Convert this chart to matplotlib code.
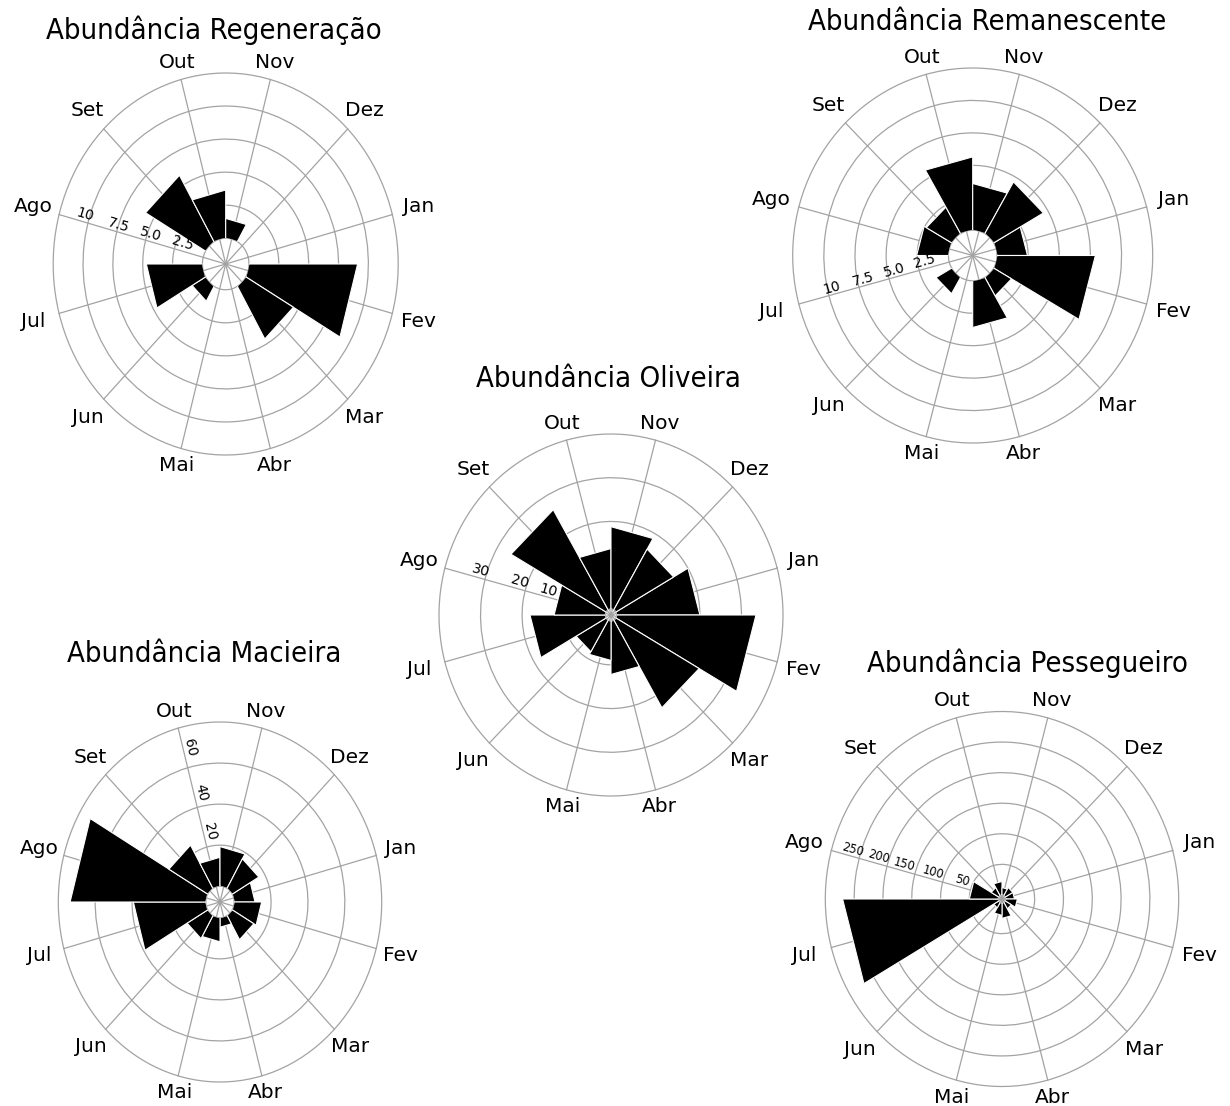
import numpy as np
import matplotlib.pyplot as plt

meses = ['Jan', 'Fev', 'Mar', 'Abr', 'Mai', 'Jun', 'Jul', 'Ago', 'Set', 'Out', 'Nov', 'Dez']

# abundancia mensal
regeneracao = [0, 9.1, 4.6, 0, 0, 1.3, 4.7, 0, 5.8, 3.65, 1.5, 0]
remanescente = [2.45, 7.9, 1.65, 3.6, 0, 1.45, 0, 2.55, 2.35, 5.65, 3.6, 4.6]
oliveira = [20, 33.5, 23.1, 12.2, 9, 8.3, 18.1, 12.3, 26.4, 13.8, 18.8, 16]
macieira = [11.3, 14.9, 13.5, 4.6, 11.7, 12.9, 39.3, 73.6, 24.3, 14.1, 19.3, 16.6]
pessegueiro = [15, 20, 12, 25, 20, 10, 270, 50, 15, 22, 12, 15]

# escalas radiais
ticks_10 = [2.5, 5.0, 7.5, 10]
rotulos_10 = ['2.5', '5.0', '7.5', '10']
ticks_oliveira = [10, 20, 30]
ticks_macieira = [20, 40, 60]
ticks_pessegueiro = [50, 100, 150, 200, 250]

W, H = 1230, 1106
GRID = '#a3a3a3'
FONTE = ['DejaVu Sans']
FONTE_TITULO = ['DejaVu Sans']

fig = plt.figure(figsize=(W / 100, H / 100), dpi=100)


def rosa(valores, titulo, cx, cy, rx, ry, rmax, furo, ticks, rotulos, eixo,
         pos_rotulos, tam_rotulo, tx, ty):
    ax = fig.add_axes([(cx - rx) / W, 1 - (cy + ry) / H, 2 * rx / W, 2 * ry / H],
                      projection='polar')
    # the reference circles are slightly squeezed horizontally
    ax.set_aspect('auto')
    ax.set_theta_zero_location('E', offset=15)
    ax.set_theta_direction(-1)
    ax.set_ylim(0, rmax)
    ax.set_rorigin(-furo)
    ax.set_xticks([])
    ax.set_yticks(ticks)
    ax.set_yticklabels([])
    ax.tick_params(length=0)
    ax.grid(True, color=GRID, lw=0.9)
    for s in ax.spines.values():
        s.set_color(GRID)
        s.set_linewidth(0.9)
    ax.patch.set_facecolor('white')

    theta = np.deg2rad(np.arange(12) * 30)
    meia = np.deg2rad(15)

    # spokes run through the hole down to the centre
    for t in theta:
        ax.plot([t, t], [-furo, rmax], color=GRID, lw=0.9, clip_on=False, zorder=1)

    # wedges with straight outer edges
    for t, v in zip(theta, valores):
        if v > 0:
            ax.fill([t - meia, t - meia, t + meia, t + meia], [0, v, v, 0],
                    facecolor='black', edgecolor='white', lw=0.8, zorder=3)

    # month names outside the rim
    for t, m in zip(theta, meses):
        ang = np.deg2rad(15) - t
        k = 0.07 + 0.09 * abs(np.cos(ang))
        ax.text(t, rmax + k * (rmax + furo), m, ha='center', va='center',
                fontsize=14.5, family=FONTE)

    # radial scale written along one spoke
    te = theta[eixo]
    p0 = ax.transData.transform((te, -furo))
    p1 = ax.transData.transform((te, rmax))
    rot = np.degrees(np.arctan2(p1[1] - p0[1], p1[0] - p0[0])) - 180
    for r, lab in zip(pos_rotulos, rotulos):
        ax.text(te, r, lab, rotation=rot, rotation_mode='anchor', ha='center',
                va='bottom', fontsize=tam_rotulo, family=FONTE, zorder=4)

    fig.text(tx / W, 1 - ty / H, titulo, ha='center', va='center',
             fontsize=21, family=FONTE_TITULO, fontstretch='condensed')


rosa(regeneracao, 'Abundância Regeneração', 225.7, 264, 172.5, 191, 12.5, 1.95,
     ticks_10, rotulos_10, 7, [2.0, 4.7, 7.5, 10.4], 10, 213.5, 30)
rosa(remanescente, 'Abundância Remanescente', 972.7, 255.5, 180, 187.5, 12.5, 1.95,
     ticks_10, rotulos_10, 6, [1.9, 4.4, 7.0, 9.6], 10, 987.5, 22)
rosa(oliveira, 'Abundância Oliveira', 611, 615, 172, 181, 40, 1.4,
     ticks_oliveira, [str(t) for t in ticks_oliveira], 7, [14.6, 21.9, 31.5], 10.3,
     608, 379)
rosa(macieira, 'Abundância Macieira', 220, 902, 161.7, 180, 80, 7.7,
     ticks_macieira, [str(t) for t in ticks_macieira], 9, [26.8, 46.9, 69.2], 10,
     204, 654)
rosa(pessegueiro, 'Abundância Pessegueiro', 1002, 899, 176.7, 187.5, 300, 6.7,
     ticks_pessegueiro, [str(t) for t in ticks_pessegueiro], 7,
     [68, 120, 173, 219, 264], 8.3, 1027, 663)

fig.savefig('out.png', dpi=100, facecolor='white')
